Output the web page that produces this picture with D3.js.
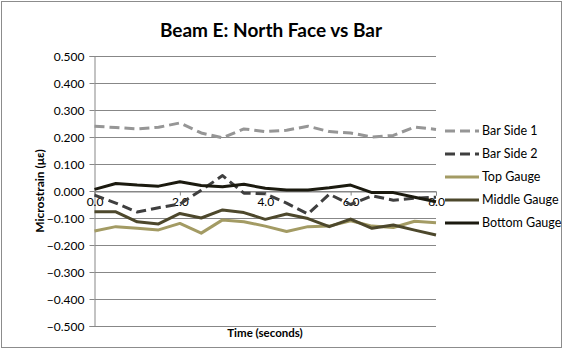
<!DOCTYPE html>
<html><head><meta charset="utf-8">
<script src="https://cdn.jsdelivr.net/npm/d3@7"></script>
<style>body{margin:0;background:#fff}svg{display:block}</style>
</head><body>
<script>
const times = [0,0.5,1,1.5,2,2.5,3,3.5,4,4.5,5,5.5,6,6.5,7,7.5,8];
const barSide1 = [0.240,0.235,0.230,0.236,0.252,0.215,0.197,0.230,0.220,0.225,0.240,0.220,0.215,0.200,0.206,0.237,0.228];
const barSide2 = [-0.015,-0.045,-0.078,-0.062,-0.048,0.003,0.057,-0.008,-0.010,-0.045,-0.085,-0.012,-0.050,-0.018,-0.034,-0.027,-0.023];
const topGauge = [-0.148,-0.132,-0.138,-0.144,-0.120,-0.156,-0.107,-0.114,-0.130,-0.150,-0.132,-0.130,-0.110,-0.130,-0.135,-0.112,-0.118];
const middleGauge = [-0.077,-0.077,-0.114,-0.122,-0.083,-0.100,-0.070,-0.080,-0.105,-0.085,-0.102,-0.132,-0.104,-0.138,-0.126,-0.145,-0.163];
const bottomGauge = [0.006,0.028,0.022,0.018,0.034,0.020,0.016,0.025,0.010,0.004,0.004,0.012,0.022,-0.006,-0.006,-0.023,-0.040];
const seriesNames = ["Bar Side 1","Bar Side 2","Top Gauge","Middle Gauge","Bottom Gauge"];
const yTicks = [0.5,0.4,0.3,0.2,0.1,0,-0.1,-0.2,-0.3,-0.4,-0.5];
const xTicks = [0,2,4,6,8];
const title = "Beam E: North Face vs Bar";
const xTitle = "Time (seconds)";
const yTitle = "Microstrain (με)";

const series = [
  {name: seriesNames[0], values: barSide1, color: "#969696", dash: "10,5"},
  {name: seriesNames[1], values: barSide2, color: "#3f3f3f", dash: "10,5"},
  {name: seriesNames[2], values: topGauge, color: "#a39b64", dash: null},
  {name: seriesNames[3], values: middleGauge, color: "#4d482c", dash: null},
  {name: seriesNames[4], values: bottomGauge, color: "#1b1a0f", dash: null}
];

const W = 564, H = 350;
const font = "Lato, 'Open Sans', sans-serif";
const svg = d3.select("body").append("svg").attr("width", W).attr("height", H);
svg.append("rect").attr("x",1.5).attr("y",1.5).attr("width",W-4).attr("height",H-4)
  .attr("fill","#fff").attr("stroke","#8c8c8c").attr("stroke-width",1);

const x = d3.scaleLinear().domain([0,8]).range([94.5,436]);
const y = d3.scaleLinear().domain([-0.5,0.5]).range([326,56]);

// gridlines
svg.append("g").selectAll("line").data(yTicks).join("line")
  .attr("x1", x(0)).attr("x2", x(8))
  .attr("y1", d => Math.round(y(d))+0.5).attr("y2", d => Math.round(y(d))+0.5)
  .attr("stroke", "#878787").attr("stroke-width", 1);

// y axis
const yAxis = svg.append("g").attr("transform", `translate(${x(0)},0)`)
  .call(d3.axisLeft(y).tickValues(yTicks).tickFormat(d3.format(".3f")).tickSize(5).tickPadding(5));
yAxis.select(".domain").attr("stroke","#878787");
yAxis.selectAll(".tick line").attr("stroke","#878787");
yAxis.selectAll("text").attr("font-family", font).attr("font-size", 12).attr("fill","#000")
  .attr("dy","0.35em");
yAxis.selectAll(".tick").attr("transform", d => `translate(0,${Math.round(y(d))+0.5})`);

// x axis at zero
const xAxis = svg.append("g").attr("transform", `translate(0,${Math.round(y(0))+0.5})`)
  .call(d3.axisBottom(x).tickValues(xTicks).tickFormat(d3.format(".1f")).tickSize(4).tickPadding(2));
xAxis.select(".domain").attr("stroke","#878787");
xAxis.selectAll(".tick line").attr("stroke","#878787");
xAxis.selectAll("text").attr("font-family", font).attr("font-size", 12).attr("fill","#000");

// lines
const line = d3.line().x((d,i) => x(times[i])).y(d => y(d));
svg.append("g").selectAll("path").data(series).join("path")
  .attr("d", d => line(d.values))
  .attr("fill","none").attr("stroke", d => d.color).attr("stroke-width", 3)
  .attr("stroke-dasharray", d => d.dash).attr("stroke-linejoin","round");

// legend
const leg = svg.append("g").selectAll("g").data(series).join("g")
  .attr("transform", (d,i) => `translate(445,${131 + i*23})`);
leg.append("line").attr("x1",0).attr("x2",34).attr("y1",0).attr("y2",0)
  .attr("stroke", d => d.color).attr("stroke-width",3).attr("stroke-dasharray", d => d.dash);
leg.append("text").attr("x",37).attr("y",0).attr("dy","0.35em")
  .attr("font-family", font).attr("font-size", 12.5).attr("fill","#000").text(d => d.name);

// titles
svg.append("text").attr("x", 271).attr("y", 37).attr("text-anchor","middle")
  .attr("font-family", font).attr("font-weight","bold").attr("font-size", 19).text(title);
svg.append("text").attr("x", 265).attr("y", 337).attr("text-anchor","middle")
  .attr("font-family", font).attr("font-weight","bold").attr("font-size", 11.5).text(xTitle);
svg.append("text").attr("transform", `translate(44,${y(0)}) rotate(-90)`).attr("text-anchor","middle")
  .attr("font-family", font).attr("font-weight","bold").attr("font-size", 12).text(yTitle);
</script>
</body></html>
